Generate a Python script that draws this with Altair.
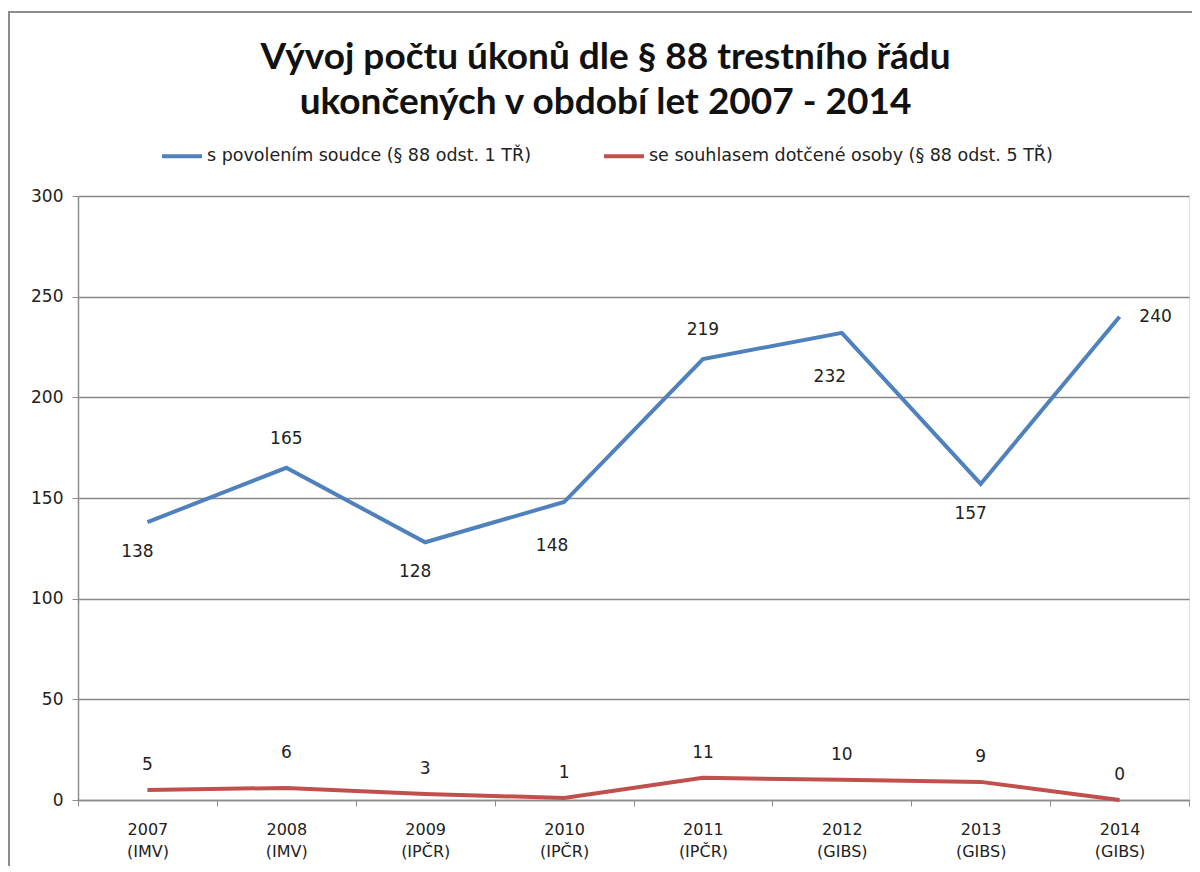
import altair as alt
import pandas as pd

# ---- data ----
years = ["2007", "2008", "2009", "2010", "2011", "2012", "2013", "2014"]
sources = ["IMV", "IMV", "IPČR", "IPČR", "IPČR", "GIBS", "GIBS", "GIBS"]
series_names = [
    "s povolením soudce (§ 88 odst. 1 TŘ)",
    "se souhlasem dotčené osoby (§ 88 odst. 5 TŘ)",
]
judge_values = [138, 165, 128, 148, 219, 232, 157, 240]
consent_values = [5, 6, 3, 1, 11, 10, 9, 0]
judge_label_side = ["below", "above", "below", "below_far", "above", "below_far", "below", "right"]
consent_label_side = ["above_near", "above_far", "above_near", "above_near",
                      "above_near", "above_near", "above_near", "above_near"]
y_ticks = [0, 50, 100, 150, 200, 250, 300]
title_lines = [
    "Vývoj počtu úkonů dle § 88 trestního řádu",
    "ukončených v období let 2007 - 2014",
]
series_colors = ["#4F81BD", "#C0504D"]

categories = [f"{y}|({s})" for y, s in zip(years, sources)]

rows = []
for c, v, side in zip(categories, judge_values, judge_label_side):
    rows.append({"cat": c, "series": series_names[0], "value": v, "side": side})
for c, v, side in zip(categories, consent_values, consent_label_side):
    rows.append({"cat": c, "series": series_names[1], "value": v, "side": side})
df = pd.DataFrame(rows)

# ---- styles ----
label_offsets = {
    "above": (0, -29),
    "above_near": (0, -25),
    "above_far": (0, -35),
    "below": (-10, 30),
    "below_far": (-12, 44),
    "right": (36, 0),
}
W, H = 1111, 604

x_enc = alt.X(
    "cat:N",
    sort=categories,
    scale=alt.Scale(paddingInner=0, paddingOuter=0),
    axis=alt.Axis(
        title=None,
        labelExpr="split(datum.label, '|')",
        labelAngle=0,
        labelFont="DejaVu Sans",
        labelFontSize=16,
        labelColor="#222222",
        labelLineHeight=22,
        labelPadding=15,
        labelBaseline="top",
        tickBand="extent",
        tickSize=6,
        tickColor="#8c8c8c",
        domainColor="#8c8c8c",
        domainWidth=1.5,
        grid=False,
    ),
)
y_enc = alt.Y(
    "value:Q",
    scale=alt.Scale(domain=[0, 300], nice=False),
    axis=alt.Axis(
        title=None,
        values=y_ticks,
        labelFont="DejaVu Sans",
        labelFontSize=17,
        labelColor="#222222",
        labelPadding=9,
        tickSize=6,
        tickColor="#8c8c8c",
        domainColor="#8c8c8c",
        domainWidth=1.5,
        gridColor="#888888",
        gridWidth=1.3,
    ),
)
color_enc = alt.Color(
    "series:N",
    sort=series_names,
    scale=alt.Scale(domain=series_names, range=series_colors),
    legend=alt.Legend(
        title=None,
        orient="none",
        direction="horizontal",
        legendX=82,
        legendY=-62,
        symbolType="stroke",
        symbolSize=1600,
        symbolStrokeWidth=4,
        labelFont="DejaVu Sans",
        labelFontSize=17.5,
        labelColor="#222222",
        labelOffset=3,
        labelLimit=600,
        columnPadding=65,
    ),
)

base = alt.Chart(df)
line = base.mark_line(strokeWidth=4).encode(x=x_enc, y=y_enc, color=color_enc)

text_layers = []
for side, (dx, dy) in label_offsets.items():
    text_layers.append(
        base.transform_filter(alt.datum.side == side)
        .mark_text(dx=dx, dy=dy, font="DejaVu Sans", fontSize=17, color="#222222", baseline="middle")
        .encode(x=alt.X("cat:N", sort=categories), y="value:Q", text="value:Q")
    )

frame_df = pd.DataFrame({"f": [0]})
left_border = alt.Chart(frame_df).mark_rule(color="#8c8c8c", strokeWidth=2).encode(
    x=alt.value(-69), y=alt.value(-184), y2=alt.value(H + 80)
)
top_border = alt.Chart(frame_df).mark_rule(color="#8c8c8c", strokeWidth=2).encode(
    x=alt.value(-70), x2=alt.value(W + 20), y=alt.value(-184)
)

chart = (
    alt.layer(left_border, top_border, line, *text_layers)
    .properties(
        width=W,
        height=H,
        title=alt.TitleParams(
            text=title_lines,
            font="Lato",
            fontSize=37,
            fontWeight="bold",
            color="#111111",
            lineHeight=45,
            anchor="middle",
            dx=-28,
            offset=-111,
        ),
        autosize=alt.AutoSizeParams(type="none"),
        padding={"left": 70, "top": 188, "right": 3, "bottom": 66},
    )
    .configure_view(stroke=None)
    .configure(background="white")
)

chart.save("out.html", embed_options={"renderer": "svg", "actions": False})
